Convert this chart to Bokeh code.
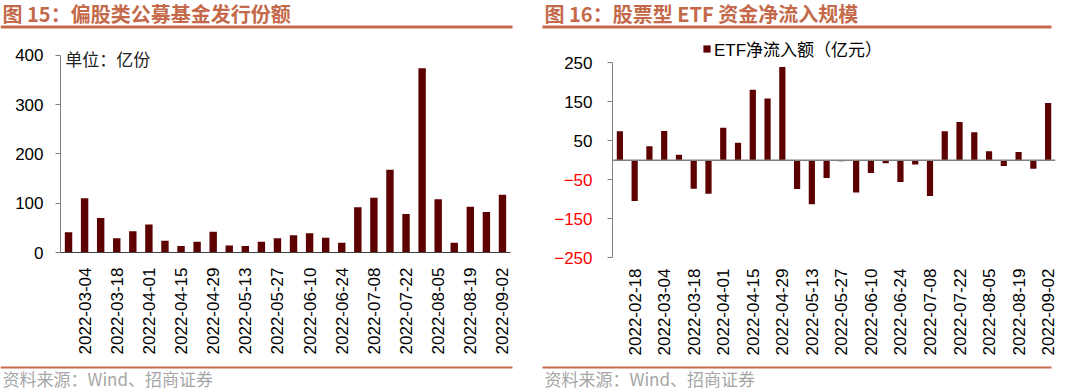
from math import pi
from bokeh.plotting import figure
from bokeh.layouts import row, column
from bokeh.models import (FixedTicker, Label, BoxAnnotation, Legend, LegendItem,
                          LinearAxis, Range1d)
from bokeh.embed import file_html
from bokeh.resources import INLINE

# ---------------- data ----------------
fund_weeks = ["2022-02-25", "2022-03-04", "2022-03-11", "2022-03-18", "2022-03-25", "2022-04-01",
              "2022-04-08", "2022-04-15", "2022-04-22", "2022-04-29", "2022-05-06", "2022-05-13",
              "2022-05-20", "2022-05-27", "2022-06-03", "2022-06-10", "2022-06-17", "2022-06-24",
              "2022-07-01", "2022-07-08", "2022-07-15", "2022-07-22", "2022-07-29", "2022-08-05",
              "2022-08-12", "2022-08-19", "2022-08-26", "2022-09-02"]
fund_issue = [41, 110, 70, 29, 43, 57, 24, 13, 22, 42, 14, 13, 22, 29,
              35, 39, 30, 20, 92, 111, 168, 78, 374, 108, 20, 93, 82, 117]

etf_weeks = ["2022-02-11", "2022-02-18", "2022-02-25", "2022-03-04", "2022-03-11", "2022-03-18",
             "2022-03-25", "2022-04-01", "2022-04-08", "2022-04-15", "2022-04-22", "2022-04-29",
             "2022-05-06", "2022-05-13", "2022-05-20", "2022-05-27", "2022-06-03", "2022-06-10",
             "2022-06-17", "2022-06-24", "2022-07-01", "2022-07-08", "2022-07-15", "2022-07-22",
             "2022-07-29", "2022-08-05", "2022-08-12", "2022-08-19", "2022-08-26", "2022-09-02"]
etf_flow = [74, -105, 36, 75, 14, -73, -86, 83, 45, 181, 158, 239, -74, -113, -46,
            -3, -83, -33, -8, -56, -11, -92, 74, 98, 72, 23, -15, 21, -22, 147]

left_yticks = [0, 100, 200, 300, 400]
right_yticks = [-250, -150, -50, 50, 150, 250]

title_left = "图 15：偏股类公募基金发行份额"
title_right = "图 16：股票型 ETF 资金净流入规模"
unit_text = "单位：亿份"
legend_text = "ETF净流入额（亿元）"
source_text = "资料来源：Wind、招商证券"

# ---------------- styles ----------------
BAR = "#5C0000"
ACCENT = "#C46A4A"
CJK = "Noto Sans CJK SC"
LAT = "Liberation Sans"
W1, W2 = 533, 534
TOP_H, MID_H, BOT_H = 30, 332, 30


def strip_fig(width, height, y0, y1):
    # decoration strip whose data coords equal page pixel coords
    p = figure(width=width, height=height, x_range=Range1d(0, width), y_range=Range1d(y1, y0),
               output_backend="svg", toolbar_location=None, min_border=0, title=None,
               x_axis_location=None, y_axis_location=None, frame_align=False)
    p.xgrid.visible = False
    p.ygrid.visible = False
    p.outline_line_color = None
    return p


def title_strip(width, x0, x1, text):
    p = strip_fig(width, TOP_H, 0, TOP_H)
    p.add_layout(Label(x=x0 + 2, y=13, text=text, text_font=CJK, text_font_style="bold",
                       text_font_size="20px", text_color=ACCENT, text_baseline="middle",
                       text_align="left"))
    p.add_layout(BoxAnnotation(left=x0, right=x1, top=25, bottom=28, fill_color=ACCENT,
                               fill_alpha=1, line_color=None))
    return p


def source_strip(width, x0, x1, text):
    p = strip_fig(width, BOT_H, 362, 392)
    p.add_layout(BoxAnnotation(left=x0, right=x1, top=366, bottom=368, fill_color=ACCENT,
                               fill_alpha=1, line_color=None))
    p.add_layout(Label(x=x0 + 2, y=378, text=text, text_font=CJK, text_font_size="17px",
                       text_color="#A6A6A6", text_baseline="middle", text_align="left"))
    return p


def chart_fig(width, xr, yr, bl, br, bt, bb, **kw):
    p = figure(width=width, height=MID_H, x_range=xr, y_range=yr, output_backend="svg",
               toolbar_location=None, min_border_left=bl, min_border_right=br,
               min_border_top=bt, min_border_bottom=bb, title=None, frame_align=False, **kw)
    p.xgrid.visible = False
    p.ygrid.visible = False
    p.outline_line_color = None
    return p


def style_xaxis(ax, labels, ticks, standoff):
    ax.ticker = FixedTicker(ticks=ticks)
    ax.major_label_overrides = {i: labels[i] for i in ticks}
    ax.major_label_orientation = pi / 2
    ax.major_tick_in = 0
    ax.major_tick_out = 0
    ax.minor_tick_line_color = None
    ax.major_label_standoff = standoff
    ax.major_label_text_font = LAT
    ax.major_label_text_font_size = "17px"
    ax.major_label_text_color = "black"


def style_yaxis(ay, ticks, bounds, standoff, color="black"):
    ay.ticker = FixedTicker(ticks=ticks)
    ay.bounds = bounds
    ay.major_tick_in = 0
    ay.major_tick_out = 5
    ay.minor_tick_line_color = None
    ay.major_tick_line_color = "#808080"
    ay.axis_line_color = "#808080"
    ay.major_label_standoff = standoff
    ay.major_label_text_font = LAT
    ay.major_label_text_font_size = "17px"
    ay.major_label_text_color = color


# ---------------- left chart ----------------
n1 = len(fund_issue)
p1 = chart_fig(W1, (-0.5, n1 - 0.5), (0, 420), 60, 23, 15, 110)
p1.vbar(x=list(range(n1)), top=fund_issue, width=0.46, fill_color=BAR, line_color=None)
style_xaxis(p1.xaxis[0], fund_weeks, list(range(1, n1, 2)), 15)
p1.xaxis[0].axis_line_color = "#404040"
p1.xaxis[0].axis_line_width = 1.2
style_yaxis(p1.yaxis[0], left_yticks, (0, 400), 12)
p1.add_layout(Label(x=-0.2, y=394, text=unit_text, text_font=CJK, text_font_size="17px",
                    text_color="#222222", text_baseline="middle", text_align="left"))

# ---------------- right chart ----------------
# frame starts left of the bars so the (fixed-location) y axes' labels lie inside it
n2 = len(etf_flow)
frame_left, axis_x, frame_right = 548, 612, 1055
px_per_bar = (frame_right - axis_x) / n2
x_start = -0.5 - (axis_x - frame_left) / px_per_bar
p2 = chart_fig(W2, (x_start, n2 - 0.5), (-278, 320), frame_left - W1, W2 - (frame_right - W1),
               5, 94, y_axis_location=None)
r2 = p2.vbar(x=list(range(n2)), top=etf_flow, width=0.42, fill_color=BAR, line_color=None)
p2.segment(x0=[-0.5], y0=[0], x1=[n2 - 0.5], y1=[0], line_color="#808080", line_width=1.6)
style_xaxis(p2.xaxis[0], etf_weeks, list(range(1, n2, 2)), 0)
p2.xaxis[0].axis_line_color = None

pos_axis = LinearAxis(fixed_location=-0.5)
style_yaxis(pos_axis, right_yticks, (-250, 250), 15)
pos_axis.major_label_overrides = {t: "" for t in right_yticks if t < 0}
p2.add_layout(pos_axis, "left")

neg_axis = LinearAxis(fixed_location=-0.5)
style_yaxis(neg_axis, [t for t in right_yticks if t < 0], (-250, 250), 15, color="#FF0000")
neg_axis.axis_line_color = None
neg_axis.major_tick_line_color = None
p2.add_layout(neg_axis, "left")

legend = Legend(items=[LegendItem(label=legend_text, renderers=[r2])],
                location=(702 - frame_left, 207), orientation="horizontal",
                border_line_color=None, background_fill_alpha=0, padding=0, margin=0,
                spacing=0, glyph_width=9, glyph_height=9, label_standoff=3,
                label_text_font=LAT + ", " + CJK, label_text_font_size="17px",
                label_text_color="black")
p2.add_layout(legend)

# ---------------- assemble ----------------
t1 = title_strip(W1, 0, 512, title_left)
t2 = title_strip(W2, 542 - W1, 1051 - W1, title_right)
f1 = source_strip(W1, 0, 512, source_text)
f2 = source_strip(W2, 542 - W1, 1051 - W1, source_text)

layout = column(row(t1, t2, spacing=0), row(p1, p2, spacing=0), row(f1, f2, spacing=0),
                spacing=0)
open("out.html", "w").write(file_html(layout, INLINE))
